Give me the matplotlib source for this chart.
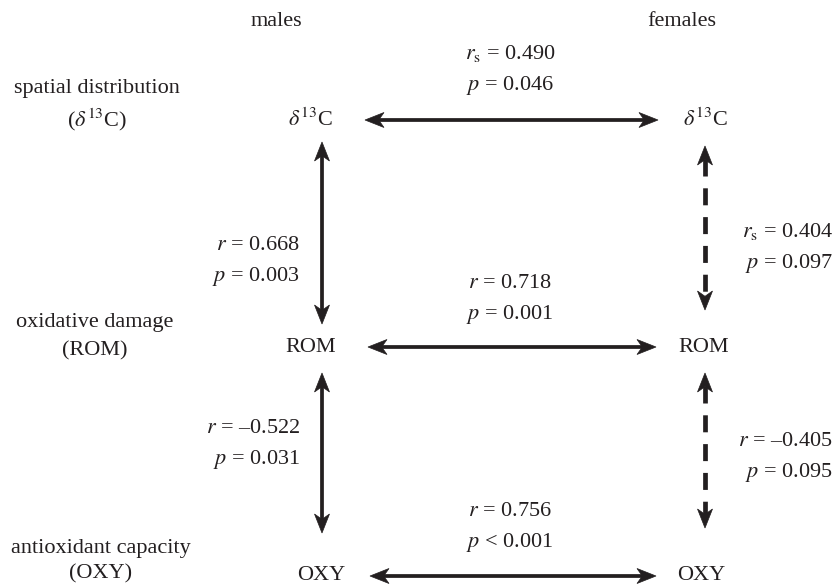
import matplotlib
matplotlib.use("Agg")
import matplotlib.pyplot as plt
from matplotlib.patches import Polygon
import numpy as np

plt.rcParams['font.family'] = ['Liberation Serif', 'DejaVu Serif']
plt.rcParams['mathtext.fontset'] = 'stix'

# ---- content ----
columns = ["males", "females"]
row_labels = ["spatial distribution\n($\\delta^{13}$C)",
              "oxidative damage\n(ROM)",
              "antioxidant capacity\n(OXY)"]
node_names = ["$\\delta^{13}$C", "ROM", "OXY"]

# horizontal links (male <-> female), per row
h_stats = ["$r_{\\rm s}$ = 0.490\n$p$ = 0.046",
           "$r$ = 0.718\n$p$ = 0.001",
           "$r$ = 0.756\n$p$ < 0.001"]
# vertical links in males (row0-row1, row1-row2)
male_v_stats = ["$r$ = 0.668\n$p$ = 0.003",
                "$r$ = –0.522\n$p$ = 0.031"]
male_v_significant = [True, True]
# vertical links in females
female_v_stats = ["$r_{\\rm s}$ = 0.404\n$p$ = 0.097",
                  "$r$ = –0.405\n$p$ = 0.095"]
female_v_significant = [False, False]

# ---- layout (pixel coordinates) ----
W, H = 838, 585
fig = plt.figure(figsize=(W / 100, H / 100), dpi=100)
ax = fig.add_axes([0, 0, 1, 1])
ax.set_xlim(0, W)
ax.set_ylim(H, 0)
ax.axis('off')

INK = '#231f20'
fs = 16
ls = 1.62
col_head_x = [276, 682]
row_y = [120, 347, 575]
row_label_x = [97, 95, 101]
row_label_y = [106, 337, 561]
row_label_ls = [1.45, 1.62, 1.42]

for cx, c in zip(col_head_x, columns):
    ax.text(cx, 22, c, ha='center', va='center', fontsize=fs, color=INK)

for x, y, t, l in zip(row_label_x, row_label_y, row_labels, row_label_ls):
    ax.text(x, y, t, ha='center', va='center', fontsize=fs, linespacing=l, color=INK)

node_x = [[310, 705], [311, 704], [321, 701]]
for i, name in enumerate(node_names):
    for j in range(2):
        ax.text(node_x[i][j], row_y[i], name, ha='center', va='center',
                fontsize=fs, color=INK)


def head(tip, d, L=19, Wd=15):
    d = np.asarray(d, float)
    n = np.array([-d[1], d[0]])
    tip = np.asarray(tip, float)
    pts = [tip,
           tip - L * d + Wd / 2 * n,
           tip - 0.72 * L * d,
           tip - L * d - Wd / 2 * n]
    ax.add_patch(Polygon(pts, closed=True, facecolor=INK, edgecolor=INK, lw=0.5))


def arrow(p0, p1, dashed=False):
    p0 = np.asarray(p0, float)
    p1 = np.asarray(p1, float)
    d = (p1 - p0) / np.linalg.norm(p1 - p0)
    a = p0 + 13 * d
    b = p1 - 13 * d
    if dashed:
        ax.plot([a[0], b[0]], [a[1], b[1]], color=INK, lw=3.4,
                dashes=(3.6, 2.5), solid_capstyle='butt', dash_capstyle='butt')
    else:
        ax.plot([a[0], b[0]], [a[1], b[1]], color=INK, lw=2.7,
                solid_capstyle='butt')
    head(p1, d)
    head(p0, -d)

# horizontal arrows
h_x = [(365, 658), (368, 656), (370, 656)]
h_y = [120, 347, 576]
h_text_y = [70, 300, 528]
for (x0, x1), y, ty, s in zip(h_x, h_y, h_text_y, h_stats):
    arrow((x0, y), (x1, y))
    ax.text(510, ty, s, ha='center', va='center', fontsize=fs,
            linespacing=ls, color=INK)

# vertical arrows
male_x, female_x = 322, 705
male_spans = [(142, 324), (373, 533)]
female_spans = [(146, 310), (373, 528)]
male_text_y = [262, 445]
female_text_y = [248, 458]
for k in range(2):
    y0, y1 = male_spans[k]
    arrow((male_x, y0), (male_x, y1), dashed=not male_v_significant[k])
    ax.text(300, male_text_y[k], male_v_stats[k], ha='right', va='center',
            fontsize=fs, linespacing=ls, multialignment='right', color=INK)
    y0, y1 = female_spans[k]
    arrow((female_x, y0), (female_x, y1), dashed=not female_v_significant[k])
    ax.text(833, female_text_y[k], female_v_stats[k], ha='right',
            va='center', fontsize=fs, linespacing=ls, multialignment='right',
            color=INK)

fig.savefig('out.png', dpi=100)
